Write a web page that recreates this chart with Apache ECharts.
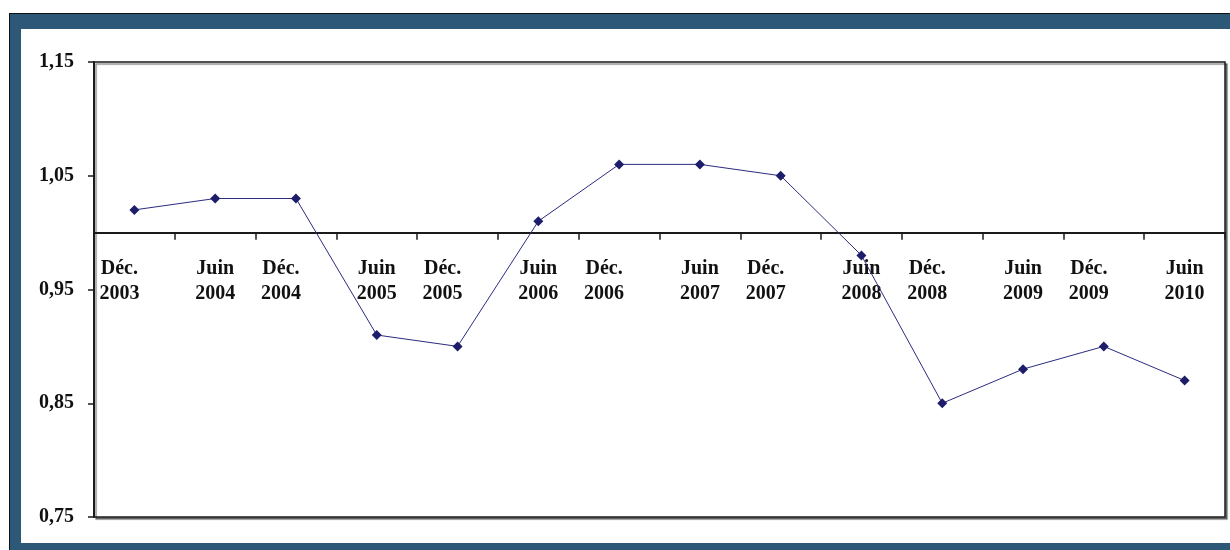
<!DOCTYPE html>
<html><head><meta charset="utf-8">
<script src="https://cdn.jsdelivr.net/npm/echarts@6/dist/echarts.min.js"></script>
<style>
html,body{margin:0;padding:0;background:#fff;}
#wrap{position:relative;width:1230px;height:550px;overflow:hidden;background:#fff;}
#frame{position:absolute;left:9px;top:13px;width:1300px;height:600px;background:#2d5878;border:1px solid #111;box-sizing:border-box;}
#inner{position:absolute;left:21px;top:29px;width:1300px;height:514px;background:#fff;}
#chart{position:absolute;left:0;top:0;width:1230px;height:550px;}
</style></head>
<body><div id="wrap"><div id="frame"></div><div id="inner"></div><div id="chart"></div></div>
<script>
const months = ['Déc.','Juin','Déc.','Juin','Déc.','Juin','Déc.','Juin','Déc.','Juin','Déc.','Juin','Déc.','Juin'];
const years  = ['2003','2004','2004','2005','2005','2006','2006','2007','2007','2008','2008','2009','2009','2010'];
const values = [1.02,1.03,1.03,0.91,0.90,1.01,1.06,1.06,1.05,0.98,0.85,0.88,0.90,0.87];
const yMin = 0.75, yMax = 1.15, yStep = 0.1, crossAt = 1.0;

const gridTop = 62, gridBottom = 33, chartH = 550;
const gridH = chartH - gridTop - gridBottom;
const xOffset = -gridH * (crossAt - yMin) / (yMax - yMin);

const catData = months.map((m, i) => ({
  value: m + '\n' + years[i],
  textStyle: m === 'Déc.' ? { padding: [0, 30, 0, 0] } : {}
}));

const chart = echarts.init(document.getElementById('chart'), null, {renderer: 'canvas'});
chart.setOption({
  animation: false,
  backgroundColor: 'transparent',
  grid: {
    left: 94, right: 5, top: gridTop, bottom: gridBottom,
    show: true, backgroundColor: '#fff', borderColor: '#1a1a1a', borderWidth: 1.5,
    shadowColor: 'rgba(0,0,0,0.45)', shadowOffsetX: 2, shadowOffsetY: 2, shadowBlur: 1
  },
  xAxis: {
    type: 'category',
    data: catData,
    boundaryGap: true,
    position: 'bottom',
    offset: xOffset,
    axisLine: { show: true, onZero: false, lineStyle: { color: '#1a1a1a', width: 2 } },
    axisTick: { show: true, interval: 0, length: 7, lineStyle: { color: '#1a1a1a', width: 1.5 } },
    axisLabel: {
      interval: 0, margin: 24, color: '#111',
      fontFamily: 'Liberation Serif', fontWeight: 'bold', fontSize: 20, lineHeight: 25
    },
    splitLine: { show: false }
  },
  yAxis: {
    type: 'value',
    min: yMin, max: yMax, interval: yStep,
    axisLine: { show: true, lineStyle: { color: '#1a1a1a', width: 2 } },
    axisTick: { show: true, length: 6, lineStyle: { color: '#1a1a1a', width: 1.5 } },
    axisLabel: {
      margin: 20, color: '#111',
      fontFamily: 'Liberation Serif', fontWeight: 'bold', fontSize: 20,
      formatter: v => v.toFixed(2).replace('.', ',')
    },
    splitLine: { show: false }
  },
  series: [{
    type: 'line',
    data: values,
    symbol: 'diamond',
    symbolSize: 10,
    lineStyle: { color: '#2b2b80', width: 1 },
    itemStyle: { color: '#1d1d6b' }
  }]
});
</script>
</body></html>
